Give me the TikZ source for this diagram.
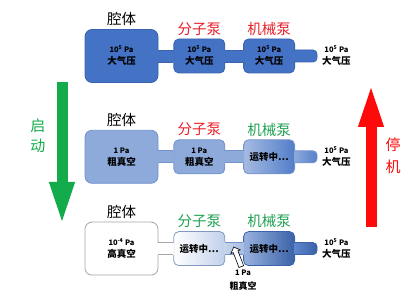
\documentclass[tikz,border=0pt]{standalone}
\usepackage{fontspec}
\setmainfont{Noto Sans CJK SC}
\usetikzlibrary{arrows.meta,positioning,calc,shapes.arrows}
\definecolor{BlueDark}{HTML}{4472C4}
\definecolor{BlueEdge}{HTML}{3B63AD}
\definecolor{BlueLight}{HTML}{8EAADB}
\definecolor{BlueLightEdge}{HTML}{7192CB}
\definecolor{GreyEdge}{HTML}{A6A6A6}
\definecolor{GoGreen}{HTML}{14AB4C}
\definecolor{StopRed}{HTML}{FF0A0A}
\definecolor{TagRed}{HTML}{E8202A}
\definecolor{TagGreen}{HTML}{1FA252}

\newcommand{\pres}[1]{{\fontsize{7.5}{12}\selectfont 10\textsuperscript{#1} Pa}}
% tube between two vessels: from, to, fill, edge
\newcommand{\tube}[4]{%
  \path[#3] ($(#1.east)+(-1,-6)$) rectangle ($(#2.west)+(1,6)$);
  \draw[#4,line width=0.8pt] ($(#1.east)+(0,-6)$) -- ($(#2.west)+(0,-6)$)
    ($(#1.east)+(0,6)$) -- ($(#2.west)+(0,6)$);}
% exhaust tube: vessel, end, style
\newcommand{\spout}[3]{%
  \path[#3,line width=0.8pt,rounded corners=4pt] ($(#1.east)+(-1,6)$) -- ($(#2)+(0,6)$)
    -- ($(#2)+(0,-6)$) -- ($(#1.east)+(-1,-6)$);}

\begin{document}
\begin{tikzpicture}[x=1pt,y=-1pt,
  vessel/.style={line width=0.8pt,rounded corners=7pt,minimum width=73pt,minimum height=53pt,inner sep=0pt,align=center,font=\bfseries\fontsize{9.5}{12}\selectfont},
  pump/.style={vessel,rounded corners=5pt,minimum width=51pt,minimum height=34pt},
  dark/.style={fill=BlueDark,draw=BlueEdge},
  light/.style={fill=BlueLight,draw=BlueLightEdge},
  tag/.style={font=\fontsize{14.5}{16}\selectfont,inner sep=0pt,above=3pt of #1},
  outlet/.style={inner sep=0pt,align=center,font=\bfseries\fontsize{9.5}{12}\selectfont},
  bigarrow/.style={line width=11pt,-{Triangle[length=45pt 0 0,width=22pt 0 0]}},
  sidetag/.style={inner sep=0pt,align=center,font=\fontsize{15}{20}\selectfont}
]
  \useasboundingbox (0,0) rectangle (413,299);

  % row 1: everything at atmosphere
  \node[vessel,dark] (cav1) at (121.5,56) {\pres{5}\\大气压};
  \node[pump,dark,right=15pt of cav1] (mol1) {\pres{5}\\大气压};
  \node[pump,dark,right=18pt of mol1] (mech1) {\pres{5}\\大气压};
  \coordinate (end1) at ($(mech1.east)+(22,0)$);
  \node[outlet,right=27pt of mech1] (air1) {\pres{5}\\大气压};
  \tube{cav1}{mol1}{fill=BlueDark}{BlueEdge}
  \tube{mol1}{mech1}{fill=BlueDark}{BlueEdge}
  \spout{mech1}{end1}{fill=BlueDark,draw=BlueEdge}
  \node[tag=cav1] {腔体};
  \node[tag=mol1,text=TagRed] {分子泵};
  \node[tag=mech1,text=TagRed] {机械泵};

  % row 2: rough pumping
  \node[vessel,light,below=47pt of cav1] (cav2) {{\fontsize{7.5}{12}\selectfont 1 Pa}\\粗真空};
  \node[pump,light,right=15pt of cav2] (mol2) {{\fontsize{7.5}{12}\selectfont 1 Pa}\\粗真空};
  \node[pump,draw=BlueLightEdge,left color=BlueLight!80!white,right color=BlueDark!80!BlueLight,right=18pt of mol2] (mech2) {运转中…};
  \coordinate (end2) at ($(mech2.east)+(22,0)$);
  \node[outlet,right=27pt of mech2] (air2) {\pres{5}\\大气压};
  \tube{cav2}{mol2}{fill=BlueLight}{BlueLightEdge}
  \tube{mol2}{mech2}{fill=BlueLight}{BlueLightEdge}
  \spout{mech2}{end2}{left color=BlueLight,right color=BlueDark!90!white,draw=BlueLightEdge}
  \node[tag=cav2] {腔体};
  \node[tag=mol2,text=TagRed] {分子泵};
  \node[tag=mech2,text=TagGreen] {机械泵};

  % row 3: high vacuum
  \node[vessel,fill=white,draw=GreyEdge,below=38pt of cav2] (cav3) {{\fontsize{7.5}{12}\selectfont 10\textsuperscript{-4} Pa}\\高真空};
  \node[pump,draw=BlueLightEdge!70!GreyEdge,left color=white,right color=BlueLight!55!white,right=15pt of cav3] (mol3) {运转中…};
  \node[pump,draw=BlueEdge,left color=BlueLight!90!white,right color=BlueDark!85!black,right=18pt of mol3] (mech3) {运转中…};
  \coordinate (end3) at ($(mech3.east)+(22,0)$);
  \node[outlet,right=27pt of mech3] (air3) {\pres{5}\\大气压};
  \tube{cav3}{mol3}{fill=white}{GreyEdge}
  \tube{mol3}{mech3}{left color=BlueLight!50!white,right color=BlueLight!80!white}{BlueLightEdge}
  \spout{mech3}{end3}{left color=BlueDark!85!white,right color=BlueDark!85!black,draw=BlueEdge}
  \node[tag=cav3] {腔体};
  \node[tag=mol3,text=TagGreen] {分子泵};
  \node[tag=mech3,text=TagGreen] {机械泵};
  \node[single arrow,draw=black,fill=white,line width=0.6pt,rotate=111,minimum height=21pt,inner sep=2.2pt,single arrow head extend=2.5pt] (probe) at (238,258) {};
  \node[outlet,font=\bfseries\fontsize{9}{14}\selectfont] (probetxt) at (243,280) {{\fontsize{7.5}{14}\selectfont 1 Pa}\\粗真空};

  % start / stop arrows
  \coordinate (gotop) at (62,82);
  \coordinate (gotip) at (62,227);
  \draw[bigarrow,draw=GoGreen,fill=GoGreen] (gotop) -- (gotip);
  \node[sidetag,text=GoGreen] (golbl) at (38,136) {启\\动};
  \coordinate (stopbot) at (371,227);
  \coordinate (stoptip) at (371,82);
  \draw[bigarrow,draw=StopRed,fill=StopRed] (stopbot) -- (stoptip);
  \node[sidetag,text=StopRed,font=\fontsize{15}{22}\selectfont] (stoplbl) at (393,156) {停\\机};
\end{tikzpicture}
\end{document}
